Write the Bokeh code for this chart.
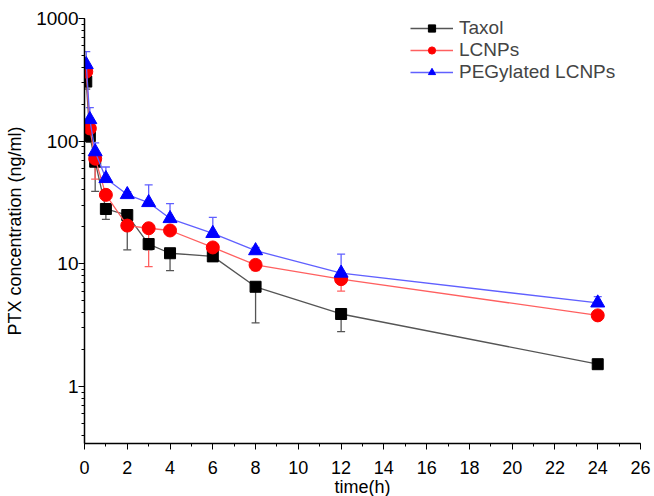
from bokeh.plotting import figure
from bokeh.models import ColumnDataSource, Whisker, TeeHead, Legend, LegendItem, FixedTicker, PrintfTickFormatter, LogTicker, Range1d
from bokeh.embed import file_html
from bokeh.resources import INLINE

time_h = [0.083, 0.25, 0.5, 1, 2, 3, 4, 6, 8, 12, 24]

taxol = [306, 110, 68, 28, 25, 14.5, 12.2, 11.5, 6.5, 3.9, 1.52]
taxol_err_low = [40, 12, 29, 5, 12, 1.5, 3.4, 1.0, 3.2, 1.1, 0]

lcnps = [369, 127, 72, 36.5, 20.5, 19.5, 18.7, 13.6, 9.8, 7.5, 3.8]
lcnps_err_low = [30, 10, 23, 2, 1.5, 10, 1, 1, 1, 1.5, 0.3]

peg = [421, 150, 82, 49.6, 36.7, 31.6, 23.4, 17.7, 12.8, 8.4, 4.8]
peg_err_up = [116, 38, 15, 12, 2, 12.5, 7.6, 6.2, 0.8, 3.6, 0.6]

x_ticks = list(range(0, 27, 2))

FONT = "Liberation Sans"

p = figure(frame_width=556, frame_height=425, output_backend="svg", toolbar_location=None,
           y_axis_type="log", x_range=Range1d(0, 26), y_range=Range1d(0.343, 1000),
           min_border_left=84, min_border_right=14, min_border_top=18, min_border_bottom=40)
p.outline_line_color = None
p.xgrid.visible = False
p.ygrid.visible = False

p.xaxis.ticker = FixedTicker(ticks=x_ticks, minor_ticks=list(range(0, 27)))
p.yaxis.ticker = LogTicker(num_minor_ticks=10)
p.yaxis.formatter = PrintfTickFormatter(format="%d")
for ax in (p.xaxis[0], p.yaxis[0]):
    ax.axis_line_color = "black"
    ax.axis_line_width = 1.5
    ax.major_tick_line_color = "black"
    ax.minor_tick_line_color = "black"
    ax.major_tick_out = 6
    ax.major_tick_in = 0
    ax.minor_tick_out = 3
    ax.minor_tick_in = 0
    ax.major_label_text_font = FONT
    ax.major_label_text_font_size = "18px"
    ax.major_label_text_color = "black"
    ax.axis_label_text_font = FONT
    ax.axis_label_text_font_size = "18px"
    ax.axis_label_text_font_style = "normal"
    ax.axis_label_text_color = "black"
p.xaxis.major_label_standoff = 11
p.xaxis.axis_label_standoff = 0
p.yaxis.major_label_standoff = 0
p.yaxis.axis_label_standoff = 8
p.yaxis.major_label_text_font_size = "19px"
p.xaxis.axis_label = "time(h)"
p.yaxis.axis_label = "PTX concentration (ng/ml)"

series = [
    ("Taxol", taxol, "#000000", "#555555", "square", 11, [v - e for v, e in zip(taxol, taxol_err_low)], taxol),
    ("LCNPs", lcnps, "#ff0000", "#ff6060", "circle", 13, [v - e for v, e in zip(lcnps, lcnps_err_low)], lcnps),
    ("PEGylated LCNPs", peg, "#0000ff", "#6060ff", "triangle", 14, peg, [v + e for v, e in zip(peg, peg_err_up)]),
]

items = []
for name, vals, col, lcol, marker, size, low, up in series:
    src = ColumnDataSource(dict(x=time_h, y=vals, low=low, up=up))
    w = Whisker(source=src, base="x", lower="low", upper="up",
                line_color=lcol, line_width=1.3,
                upper_head=TeeHead(size=8, line_color=lcol, line_width=1.3),
                lower_head=TeeHead(size=8, line_color=lcol, line_width=1.3))
    if name == "PEGylated LCNPs":
        w.lower_head = None
    else:
        w.upper_head = None
    p.add_layout(w)
    r1 = p.line("x", "y", source=src, line_color=lcol, line_width=1.3)
    r2 = p.scatter("x", "y", source=src, marker=marker, size=size, fill_color=col, line_color=col)
    items.append(LegendItem(label=name, renderers=[r1, r2]))

leg = Legend(items=items, location=(326, 360))
leg.border_line_color = None
leg.background_fill_alpha = 0
leg.label_text_font = FONT
leg.label_text_font_size = "19px"
leg.label_height = 18
leg.glyph_width = 43
leg.glyph_height = 18
leg.spacing = 0
leg.padding = 0
leg.margin = 0
leg.label_standoff = 6
p.add_layout(leg)

open("out.html", "w").write(file_html(p, INLINE))
